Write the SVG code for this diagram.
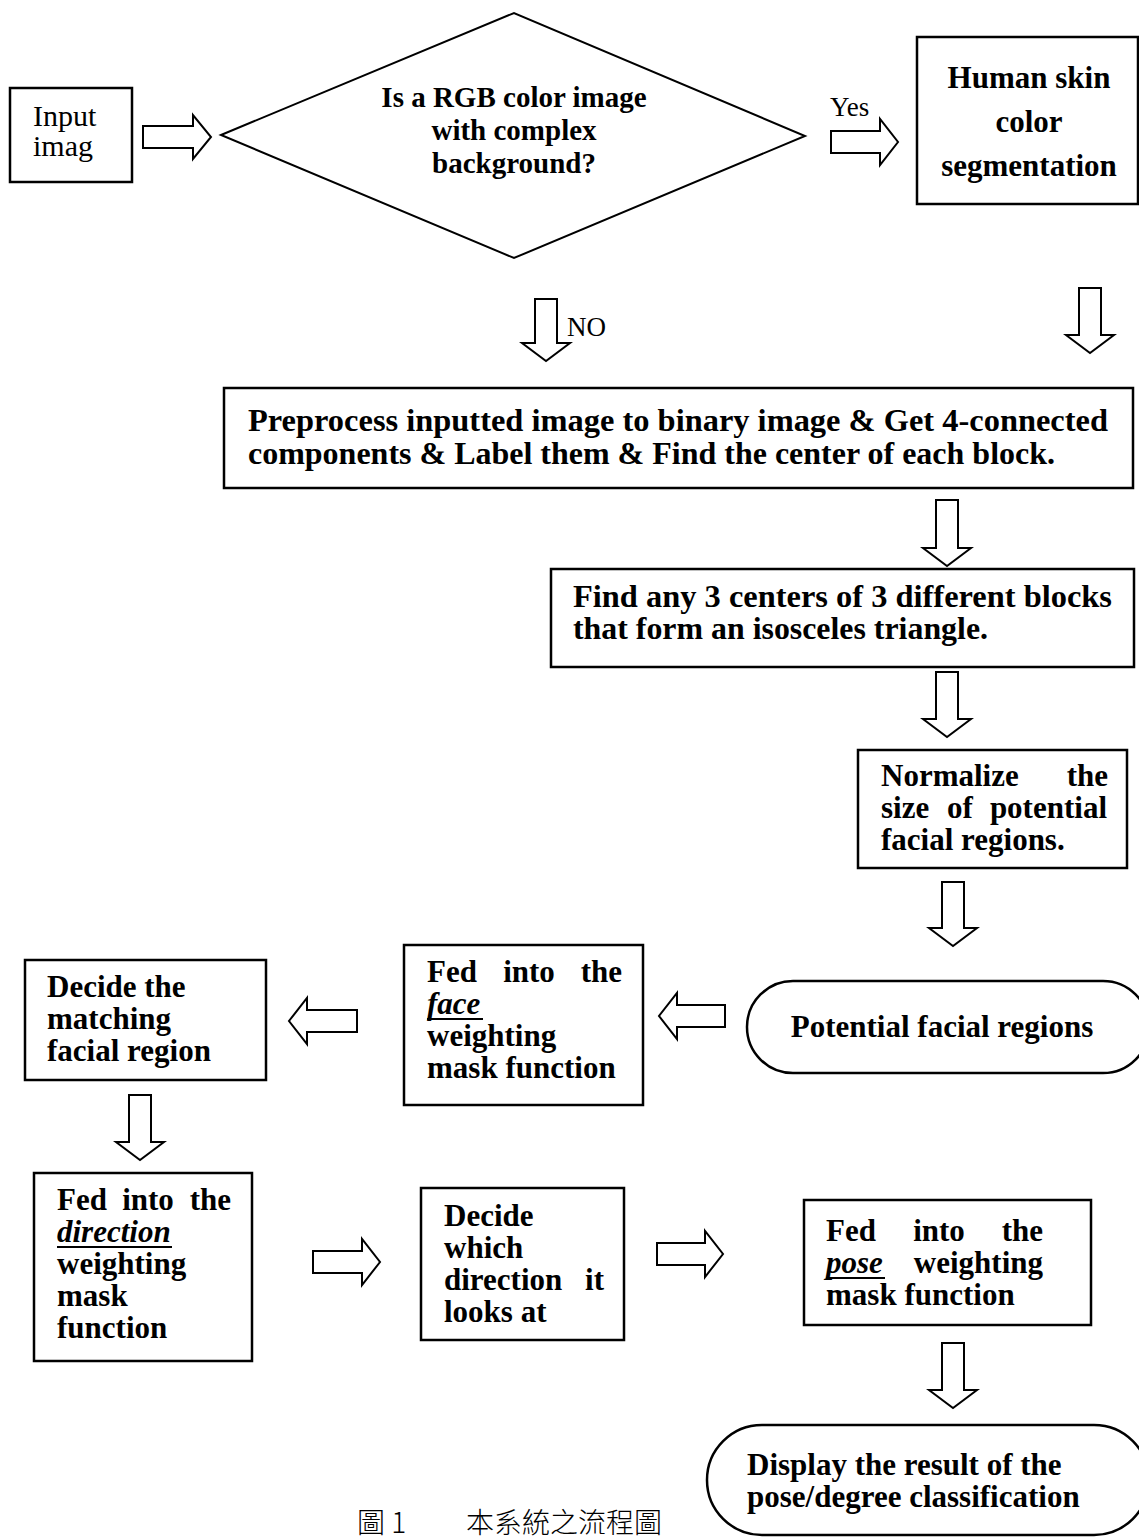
<svg xmlns="http://www.w3.org/2000/svg" width="1139" height="1538" viewBox="0 0 1139 1538">
<style>
.bx{fill:#fff;stroke:#000;stroke-width:2.5}
.dm{fill:#fff;stroke:#000;stroke-width:2}
.ar{fill:#fff;stroke:#000;stroke-width:2;stroke-linejoin:miter}
.ul{stroke:#000;stroke-width:2}
.b{font-family:"Liberation Serif","Times New Roman",serif;font-weight:bold;font-size:31px;fill:#000}
.bi{font-family:"Liberation Serif","Times New Roman",serif;font-weight:bold;font-style:italic;font-size:31px;fill:#000}
.r{font-family:"Liberation Serif","Times New Roman",serif;font-size:30px;fill:#000}
.m{text-anchor:middle}
.e{text-anchor:end}
.cap{font-family:"Noto Sans CJK TC","Noto Sans CJK SC",sans-serif;font-weight:300;font-size:28px;fill:#000}
</style>
<rect width="1139" height="1538" fill="#fff"/>

<g id="connectors">
  <path class="ar" d="M143,126 H193 V115 L211,137 L193,159 V148 H143 Z"/>
  <path class="ar" d="M831,131 H880 V119 L898,142 L880,165 V153 H831 Z"/>
  <path class="ar" d="M535,299 H557 V343 H570 L546,361 L522,343 H535 Z"/>
  <path class="ar" d="M1079,288 H1101 V335 H1114 L1090,353 L1066,335 H1079 Z"/>
  <path class="ar" d="M936,500 H958 V548 H971 L947,566 L923,548 H936 Z"/>
  <path class="ar" d="M936,672 H958 V719 H971 L947,737 L923,719 H936 Z"/>
  <path class="ar" d="M942,882 H964 V928 H977 L953,946 L929,928 H942 Z"/>
  <path class="ar" d="M725,1005 H677 V993 L659,1016 L677,1039 V1027 H725 Z"/>
  <path class="ar" d="M357,1010 H307 V998 L289,1021 L307,1044 V1032 H357 Z"/>
  <path class="ar" d="M129,1095 H151 V1142 H164 L140,1160 L116,1142 H129 Z"/>
  <path class="ar" d="M313,1251 H362 V1239 L380,1262 L362,1285 V1273 H313 Z"/>
  <path class="ar" d="M657,1243 H705 V1231 L723,1254 L705,1277 V1265 H657 Z"/>
  <path class="ar" d="M942,1343 H964 V1390 H977 L953,1408 L929,1390 H942 Z"/>
  <text class="r" x="830" y="116" style="font-size:27px">Yes</text>
  <text class="r" x="567" y="336" style="font-size:27px">NO</text>
</g>

<g id="input">
  <rect class="bx" x="10" y="88" width="122" height="94"/>
  <text class="r" x="33" y="126">Input</text>
  <text class="r" x="33" y="156">imag</text>
</g>

<g id="decision">
  <polygon class="dm" points="221,135 514,13 805,136 514,258"/>
  <text class="b m" x="514" y="107" style="font-size:29px">Is a RGB color image</text>
  <text class="b m" x="514" y="140" style="font-size:29px">with complex</text>
  <text class="b m" x="514" y="173" style="font-size:29px">background?</text>
</g>

<g id="skin">
  <rect class="bx" x="917" y="37" width="221" height="167"/>
  <text class="b m" x="1029" y="88">Human skin</text>
  <text class="b m" x="1029" y="132">color</text>
  <text class="b m" x="1029" y="176">segmentation</text>
</g>

<g id="preprocess">
  <rect class="bx" x="224" y="388" width="909" height="100"/>
  <text class="b" x="248" y="431" textLength="860" lengthAdjust="spacingAndGlyphs">Preprocess inputted image to binary image &amp; Get 4-connected</text>
  <text class="b" x="248" y="464" textLength="807" lengthAdjust="spacingAndGlyphs">components &amp; Label them &amp; Find the center of each block.</text>
</g>

<g id="find">
  <rect class="bx" x="551" y="569" width="583" height="98"/>
  <text class="b" x="573" y="607" textLength="539" lengthAdjust="spacingAndGlyphs">Find any 3 centers of 3 different blocks</text>
  <text class="b" x="573" y="639" textLength="415" lengthAdjust="spacingAndGlyphs">that form an isosceles triangle.</text>
</g>

<g id="normalize">
  <rect class="bx" x="858" y="750" width="269" height="118"/>
  <text class="b" y="786"><tspan x="881">Normalize</tspan><tspan x="1108" text-anchor="end">the</tspan></text>
  <text class="b" y="818"><tspan x="881">size</tspan><tspan x="960" text-anchor="middle">of</tspan><tspan x="1107" text-anchor="end">potential</tspan></text>
  <text class="b" x="881" y="850">facial regions.</text>
</g>

<g id="potential">
  <rect class="bx" x="747" y="981" width="402" height="92" rx="46" ry="46"/>
  <text class="b m" x="942" y="1037">Potential facial regions</text>
</g>

<g id="face">
  <rect class="bx" x="404" y="945" width="239" height="160"/>
  <text class="b" y="982"><tspan x="427">Fed</tspan><tspan x="529" text-anchor="middle">into</tspan><tspan x="622" text-anchor="end">the</tspan></text>
  <text class="bi" x="427" y="1014">face</text>
  <line class="ul" x1="427" y1="1019" x2="483" y2="1019"/>
  <text class="b" x="427" y="1046">weighting</text>
  <text class="b" x="427" y="1078">mask function</text>
</g>

<g id="matching">
  <rect class="bx" x="25" y="960" width="241" height="120"/>
  <text class="b" x="47" y="997">Decide the</text>
  <text class="b" x="47" y="1029">matching</text>
  <text class="b" x="47" y="1061">facial region</text>
</g>

<g id="direction">
  <rect class="bx" x="34" y="1173" width="218" height="188"/>
  <text class="b" y="1210"><tspan x="57">Fed</tspan><tspan x="148" text-anchor="middle">into</tspan><tspan x="231" text-anchor="end">the</tspan></text>
  <text class="bi" x="57" y="1242">direction</text>
  <line class="ul" x1="57" y1="1247" x2="172" y2="1247"/>
  <text class="b" x="57" y="1274">weighting</text>
  <text class="b" x="57" y="1306">mask</text>
  <text class="b" x="57" y="1338">function</text>
</g>

<g id="looks">
  <rect class="bx" x="421" y="1188" width="203" height="152"/>
  <text class="b" x="444" y="1226">Decide</text>
  <text class="b" x="444" y="1258">which</text>
  <text class="b" y="1290"><tspan x="444">direction</tspan><tspan x="604" text-anchor="end">it</tspan></text>
  <text class="b" x="444" y="1322">looks at</text>
</g>

<g id="pose">
  <rect class="bx" x="804" y="1200" width="287" height="125"/>
  <text class="b" y="1241"><tspan x="826">Fed</tspan><tspan x="939" text-anchor="middle">into</tspan><tspan x="1043" text-anchor="end">the</tspan></text>
  <text y="1273"><tspan class="bi" x="826">pose</tspan><tspan class="b" x="1043" text-anchor="end">weighting</tspan></text>
  <line class="ul" x1="826" y1="1278" x2="885" y2="1278"/>
  <text class="b" x="826" y="1305">mask function</text>
</g>

<g id="display">
  <rect class="bx" x="707" y="1425" width="442" height="110" rx="55" ry="55"/>
  <text class="b" x="747" y="1475">Display the result of the</text>
  <text class="b" x="747" y="1507">pose/degree classification</text>
</g>

<g id="caption">
  <text class="cap" x="357" y="1533">圖 1</text>
  <text class="cap" x="466" y="1533">本系統之流程圖</text>
</g>
</svg>
